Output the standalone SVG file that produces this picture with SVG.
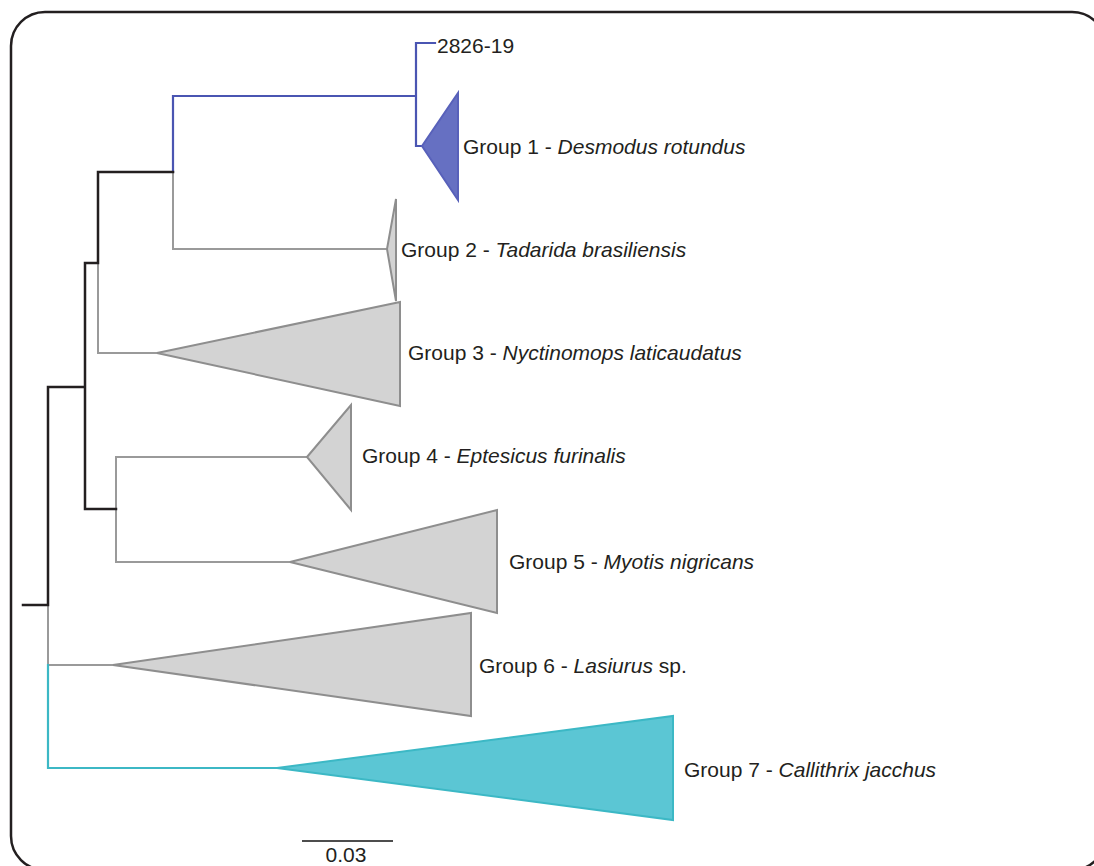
<svg xmlns="http://www.w3.org/2000/svg" width="1094" height="866" viewBox="0 0 1094 866">
<style>
.frame{fill:#fff;stroke:#231f20;stroke-width:2.5}
.br{fill:none;stroke-linecap:square;stroke-linejoin:miter}
.k{stroke:#231f20;stroke-width:2.5}
.g{stroke:#9a9a9a;stroke-width:2}
.b{stroke:#4a55b2;stroke-width:2.2}
.t{stroke:#3cb8c5;stroke-width:2.2}
.tri-g{fill:#d3d3d3;stroke:#8e8e8e;stroke-width:2;stroke-linejoin:miter}
.tri-b{fill:#6670c2;stroke:#5861ba;stroke-width:2}
.tri-t{fill:#5bc6d4;stroke:#3cb8c5;stroke-width:2}
text{font-family:"Liberation Sans",Arial,sans-serif;font-size:21px;fill:#231f20}
.i{font-style:italic}
</style>
<rect class="frame" x="11" y="12" width="1095" height="858" rx="34" ry="34"/>
<g id="connectors">
<path class="br g" d="M98,263 V353 H157 M173,172 V249 H387 M116,509 V457 H307 M116,509 V562 H290 M48,605 V665 H113"/>
<path class="br b" d="M173,172 V96 H416 M416,96 V43 H435 M416,96 V146 H422"/>
<path class="br t" d="M48,665 V768 H277"/>
<path class="br k" d="M23,605 H48 V387 H85 V509 H116 M85,387 V263 H98 V172 H173"/>
<line x1="302" y1="841" x2="393" y2="841" stroke="#4d4d4d" stroke-width="2"/>
</g>
<g id="leaf-2826-19"><text x="437" y="53">2826-19</text></g>
<g id="group1"><polygon class="tri-b" points="422,146 458,93 458,200"/><text x="463" y="154">Group 1 - <tspan class="i">Desmodus rotundus</tspan></text></g>
<g id="group2"><polygon class="tri-g" points="387,249 396,199 396,301"/><text x="401" y="257">Group 2 - <tspan class="i">Tadarida brasiliensis</tspan></text></g>
<g id="group3"><polygon class="tri-g" points="157,353 400,302 400,406"/><text x="408" y="360">Group 3 - <tspan class="i">Nyctinomops laticaudatus</tspan></text></g>
<g id="group4"><polygon class="tri-g" points="307,457 351,405 351,510"/><text x="362" y="463">Group 4 - <tspan class="i">Eptesicus furinalis</tspan></text></g>
<g id="group5"><polygon class="tri-g" points="290,562 497,510 497,613"/><text x="509" y="569">Group 5 - <tspan class="i">Myotis nigricans</tspan></text></g>
<g id="group6"><polygon class="tri-g" points="113,665 471,613 471,716"/><text x="479" y="673">Group 6 - <tspan class="i">Lasiurus</tspan> sp.</text></g>
<g id="group7"><polygon class="tri-t" points="277,768 673,716 673,820"/><text x="684" y="777">Group 7 - <tspan class="i">Callithrix jacchus</tspan></text></g>
<g id="scale"><text x="346" y="862" text-anchor="middle">0.03</text></g>
</svg>
